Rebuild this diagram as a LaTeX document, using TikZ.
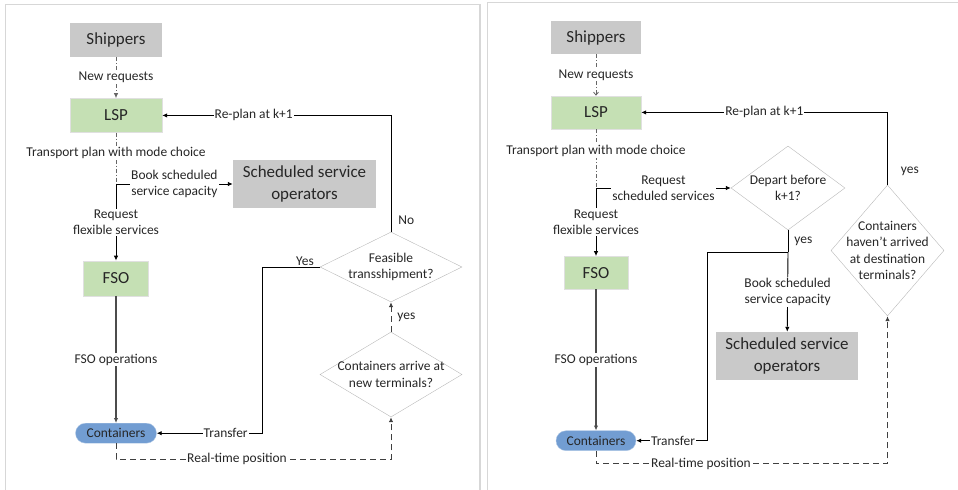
\documentclass[tikz,border=0pt]{standalone}
\usepackage{fontspec}
\setmainfont{Carlito}
\usepackage{tikz}
\usetikzlibrary{positioning,shapes.geometric,arrows.meta}
\usepackage{xcolor}
\definecolor{boxgray}{RGB}{201,201,201}
\definecolor{boxgreen}{RGB}{197,224,180}
\definecolor{pillblue}{RGB}{114,157,210}
\definecolor{framegray}{RGB}{215,215,215}

\begin{document}
\begin{tikzpicture}[
x=1bp, y=-1bp,
>={Latex[length=5bp,width=4.5bp]},
% styles
graybox/.style={rectangle, fill=boxgray, text=black!85, font=\fontsize{17}{22}\selectfont, align=center, inner sep=0pt},
greenbox/.style={rectangle, draw=black!12, fill=boxgreen, text=black!85, font=\fontsize{17}{22}\selectfont, inner sep=0pt},
pill/.style={rectangle, rounded corners=10bp, draw=pillblue!55!white, fill=pillblue, text=black!85, font=\fontsize{13.5}{16.5}\selectfont, minimum width=81bp, minimum height=20bp, inner sep=0pt},
decision/.style={diamond, draw=black!28, aspect=1.7, inner sep=-10bp, text=black!85, font=\fontsize{13.5}{16.5}\selectfont, align=center},
lbl/.style={fill=white, text=black!85, font=\fontsize{13.5}{16.5}\selectfont, align=center, inner sep=1bp},
flow/.style={black, line width=0.9bp},
ddflow/.style={black!60, line width=0.8bp, dash pattern=on 4bp off 2bp on 1bp off 2bp},
dflow/.style={black!75, line width=0.9bp, dash pattern=on 6bp off 4bp},
]
\useasboundingbox (0,0) rectangle (958,490);
\clip (0,0) rectangle (958,490);

% panels
\draw[framegray, line width=1.5bp] (5.5,4.3) rectangle (480,520);
\draw[framegray, line width=1.5bp] (487.5,2.7) rectangle (990,520);

% left panel: nodes
\node[graybox, minimum width=92bp, minimum height=34bp] (ship) at (116,40) {Shippers};
\node[greenbox, minimum width=92bp, minimum height=34bp, below=41bp of ship] (lsp) {LSP};
\node[greenbox, minimum width=65bp, minimum height=35bp, below=128bp of lsp] (fso) {FSO};
\node[pill, below=127bp of fso] (cont) {Containers};
\node[graybox, minimum width=143bp, minimum height=48bp] (sso) at (304.5,184) {Scheduled service\\operators};
\node[decision, minimum width=142bp, minimum height=70bp, aspect=2] (feas) at (391,267) {Feasible\\transshipment?};
\node[decision, minimum width=142bp, minimum height=85bp] (arrive) at (391,374.5) {Containers arrive at\\new terminals?};
\coordinate (j1) at (lsp.south |- sso.west);

% left panel: lines
\draw[ddflow,->] (ship) -- node[lbl]{New requests} (lsp);
\draw[ddflow] (lsp) -- node[lbl,pos=0.4]{Transport plan with mode choice} (j1);
\draw[flow,->] (j1) -- node[lbl]{Request\\flexible services} (fso);
\draw[flow,->] (j1) -- node[lbl]{Book scheduled\\service capacity} (sso);
\draw[flow,black!70,line width=1.3bp,->] (fso) -- node[lbl]{FSO operations} (cont);
\draw[dflow,->] (cont.south) -- ++(0,16) -| node[lbl,pos=0.22]{Real-time position} (arrive.south);
\draw[dflow,->] (arrive) -- node[lbl,right,xshift=5bp]{yes} (feas);
\draw[flow,->] (feas.west) -- node[lbl,above,pos=0.26]{Yes} ++(-57,0) |- node[lbl,pos=0.675]{Transfer} (cont.east);
\draw[flow,->] (feas.north) |- node[lbl,right,pos=0.05,xshift=6bp]{No} node[lbl,pos=0.8]{Re-plan at k+1} (lsp.east);

% right panel: nodes
\node[graybox, minimum width=90bp, minimum height=33bp] (ship2) at (596,37.5) {Shippers};
\node[greenbox, minimum width=90bp, minimum height=33bp, below=41.5bp of ship2] (lsp2) {LSP};
\node[greenbox, minimum width=64bp, minimum height=33bp, below=127bp of lsp2] (fso2) {FSO};
\node[pill, minimum width=80bp, below=141bp of fso2] (cont2) {Containers};
\node[decision, minimum width=114bp, minimum height=84bp] (depart) at (788,188) {Depart before\\k+1?};
\node[graybox, minimum width=142bp, minimum height=48bp] (sso2) at (787,356) {Scheduled service\\operators};
\node[decision, minimum width=113bp, minimum height=131bp, aspect=0.86] (haven) at (887.5,250.5) {Containers\\haven't arrived\\at destination\\terminals?};
\coordinate (j2) at (lsp2.south |- depart.west);
\coordinate[below=22bp of depart] (j3);

% right panel: lines
\draw[ddflow,-{Straight Barb[length=3bp,width=5bp]}] (ship2) -- node[lbl]{New requests} (lsp2);
\draw[ddflow] (lsp2) -- node[lbl,pos=0.37]{Transport plan with mode choice} (j2);
\draw[flow,->] (j2) -- node[lbl]{Request\\flexible services} (fso2);
\draw[flow,->] (j2) -- node[lbl]{Request\\scheduled services} (depart);
\draw[flow] (depart) -- node[lbl,right,xshift=5bp]{yes} (j3);
\draw[flow,->] (j3) -- node[lbl]{Book scheduled\\service capacity} (sso2);
\draw[flow,->] (j3) -- ++(-81,0) |- node[lbl,pos=0.74]{Transfer} (cont2.east);
\draw[flow,black!70,line width=1.3bp,->] (fso2) -- node[lbl]{FSO operations} (cont2);
\draw[dflow,->] (cont2.south) -- ++(0,13) -| node[lbl,pos=0.18]{Real-time position} (haven.south);
\draw[flow,->] (haven.north) |- node[lbl,right,pos=0.09,xshift=12bp]{yes} node[lbl,pos=0.75]{Re-plan at k+1} (lsp2.east);

\end{tikzpicture}
\end{document}
